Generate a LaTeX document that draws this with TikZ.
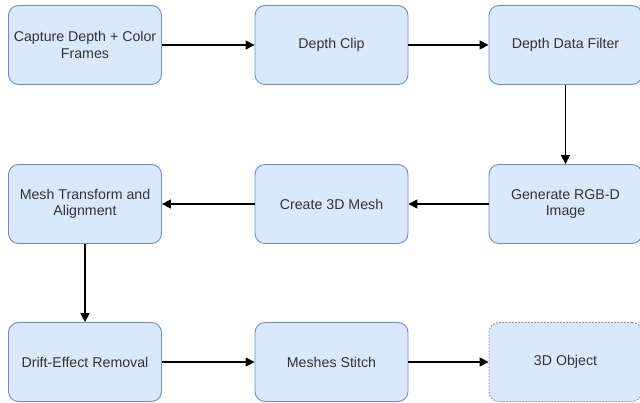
\documentclass[tikz,border=0pt]{standalone}
\usepackage{fontspec}
\setmainfont{Liberation Sans}
\usepackage{xcolor}
\usetikzlibrary{arrows.meta}

\definecolor{boxfill}{HTML}{DAE8FC}
\definecolor{boxline}{HTML}{6C8EBF}
\definecolor{boxtext}{HTML}{333333}

\begin{document}
\begin{tikzpicture}[x=1pt, y=-1pt,
    stage/.style={draw=boxline, fill=boxfill, rounded corners=10pt, line width=0.9pt,
        minimum width=153pt, minimum height=79pt, align=center, text=boxtext,
        font=\fontsize{14.2}{16.5}\selectfont},
    result/.style={stage, dash pattern=on 1.6pt off 1.6pt},
    flow/.style={line width=1.6pt, -{Triangle[length=9pt, width=9pt]}}]
\useasboundingbox (0,0) rectangle (640,403);

% Draw the first row
\node[stage] (capture) at (85, 45) {Capture Depth + Color\\Frames};
\node[stage] (clip) at (331.5, 45) {Depth Clip};
\node[stage] (filter) at (565.5, 45) {Depth Data Filter};

% Draw the second row
\node[stage] (rgbd) at (565.5, 204) {Generate RGB-D\\Image};
\node[stage] (mesh) at (331.5, 204) {Create 3D Mesh};
\node[stage] (align) at (85, 204) {Mesh Transform and\\Alignment};

% Draw the third row
\node[stage] (drift) at (85, 362) {Drift-Effect Removal};
\node[stage] (stitch) at (331.5, 362) {Meshes Stitch};
\node[result] (object) at (565.5, 362) {3D Object};

% Add arrows
\draw[flow] (capture) -- (clip);
\draw[flow] (clip) -- (filter);
\draw[flow] (filter) -- (rgbd);
\draw[flow] (rgbd) -- (mesh);
\draw[flow] (mesh) -- (align);
\draw[flow] (align) -- (drift);
\draw[flow] (drift) -- (stitch);
\draw[flow] (stitch) -- (object);

\end{tikzpicture}
\end{document}
